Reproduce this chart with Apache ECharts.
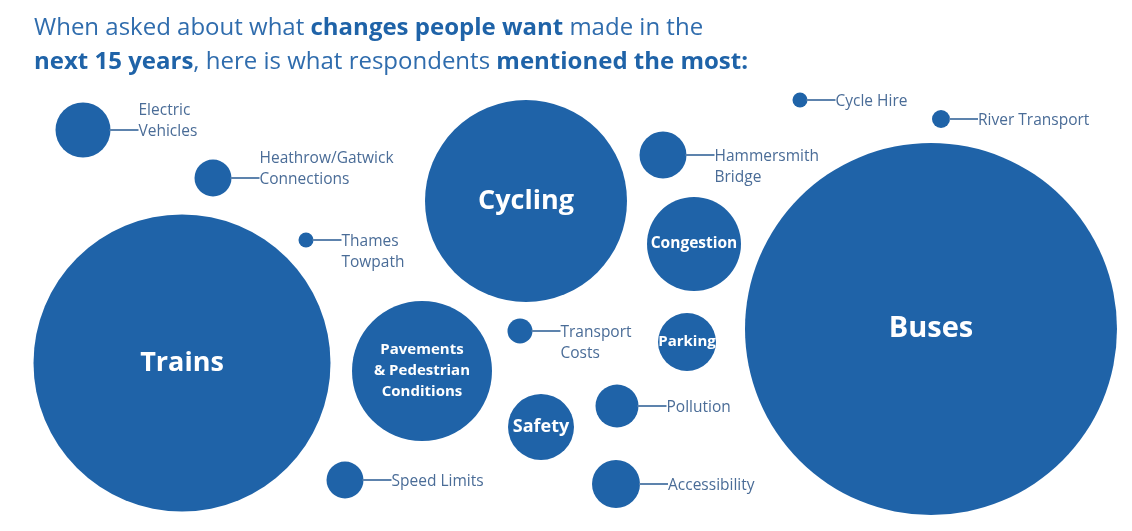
<!DOCTYPE html>
<html><head><meta charset="utf-8">
<script src="https://cdn.jsdelivr.net/npm/echarts@6/dist/echarts.min.js"></script>
<style>html,body{margin:0;padding:0;background:#fff}#c{width:1132px;height:531px}</style>
</head><body><div id="c"></div>
<script>
// Data: topics and their relative bubble size (diameter)
const categories = ['Buses','Trains','Cycling','Pavements\n& Pedestrian\nConditions','Congestion','Safety','Parking',
  'Electric\nVehicles','Accessibility','Hammersmith\nBridge','Pollution','Heathrow/Gatwick\nConnections','Speed Limits',
  'Transport\nCosts','River Transport','Cycle Hire','Thames\nTowpath'];
const sizes = [372,297,202,140,94,66,58,55,48,47,43,37,37,25,18,15,15];

// Layout (packed bubble placement, not data)
const centersX = [931,182,526,422,694,541,687,83,616,663,617,213,345,520,941,800,306];
const centersY = [329,363,201,371,244,427,342,130,484,155,406,178,480,331,119,100,240];
const labelInside = [true,true,true,true,true,true,true,false,false,false,false,false,false,false,false,false,false];
const insideFont = [29,27,27,15,15.5,18,15,0,0,0,0,0,0,0,0,0,0];
const anchorLine = [0,0,0,0,0,0,0,2,1,1,1,2,1,1,1,1,1];

const BLUE = '#1f63a8';
const TEXT = '#4a6c97';
const LINE = '#5d83ad';

const chart = echarts.init(document.getElementById('c'));
const data = categories.map((c,i)=>[centersX[i], centersY[i], sizes[i], i]);
chart.setOption({
  animation:false,
  title:{
    left:29, top:6,
    text:'{n|When asked about what }{b|changes people want}{n| made in the}\n{b|next 15 years}{n|, here is what respondents }{b|mentioned the most:}',
    textStyle:{
      rich:{
        n:{fontFamily:'Open Sans',fontSize:24,color:'#2f6cad',lineHeight:34,fontWeight:'normal'},
        b:{fontFamily:'Open Sans',fontSize:24,color:'#1f63a8',lineHeight:34,fontWeight:'bold'}
      }
    }
  },
  grid:{left:0,right:0,top:0,bottom:0},
  xAxis:{type:'value',min:0,max:1132,show:false},
  yAxis:{type:'value',min:0,max:531,inverse:true,show:false},
  series:[{
    type:'custom',
    coordinateSystem:'cartesian2d',
    encode:{x:0,y:1},
    data:data,
    renderItem:function(params, api){
      const i = api.value(3);
      const p = api.coord([api.value(0), api.value(1)]);
      const p2 = api.coord([api.value(0)+api.value(2), api.value(1)]);
      const r = (p2[0]-p[0])/2;
      const children = [{
        type:'circle', shape:{cx:p[0], cy:p[1], r:r}, style:{fill:BLUE}
      }];
      if (labelInside[i]) {
        const fs = insideFont[i];
        children.push({type:'text', style:{
          text:categories[i], x:p[0], y:p[1], align:'center', verticalAlign:'middle',
          fill:'#fff', font:'bold '+fs+'px "Open Sans"', lineHeight:Math.round(fs*1.4)
        }, z2:10});
      } else {
        const x0 = p[0]+r, x1 = x0+28;
        children.push({type:'line', shape:{x1:x0-1,y1:p[1],x2:x1,y2:p[1]}, style:{stroke:LINE,lineWidth:2}});
        const lh = 21;
        const top = p[1] - lh/2 - (anchorLine[i]-1)*lh + 1.5;
        children.push({type:'text', style:{
          text:categories[i], x:x1, y:top, align:'left', verticalAlign:'top',
          fill:TEXT, font:'15.5px "Open Sans"', lineHeight:lh
        }});
      }
      return {type:'group', children:children};
    }
  }]
});
</script></body></html>
